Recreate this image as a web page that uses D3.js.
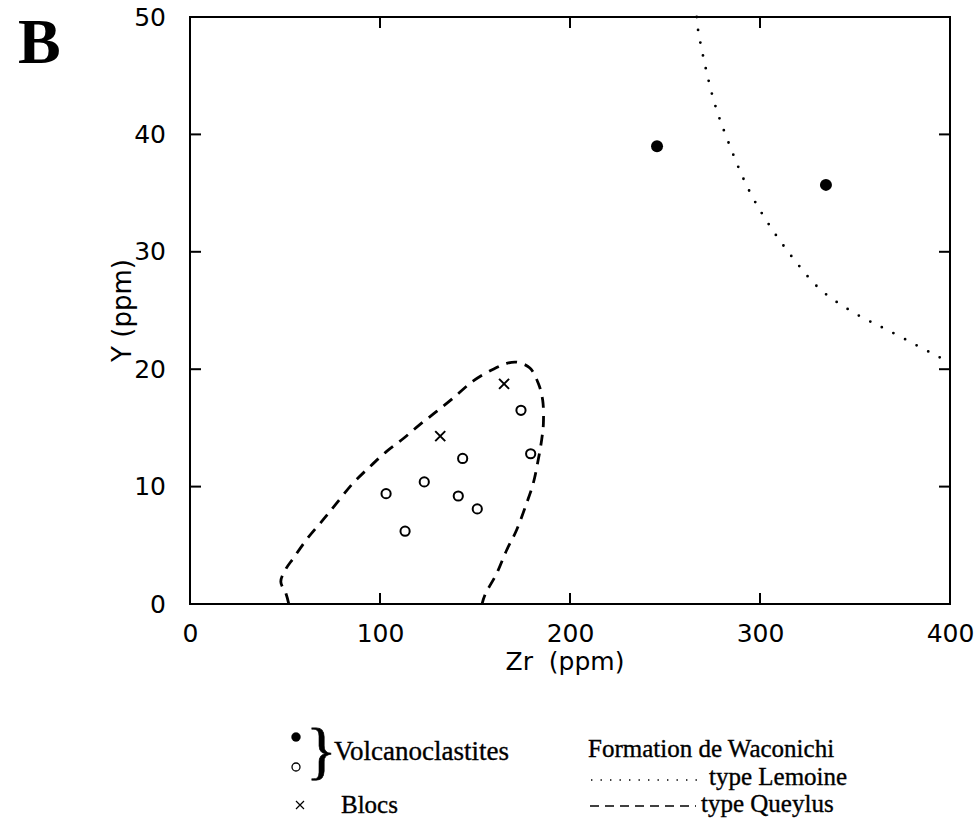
<!DOCTYPE html>
<html>
<head>
<meta charset="utf-8">
<script src="https://cdn.jsdelivr.net/npm/d3@7"></script>
<style>
  body { margin: 0; background: #fff; }
  .tick text { font-family: "DejaVu Sans", sans-serif; }
</style>
</head>
<body>
<div id="chart"></div>
<script>
// DATA
const xTicks = [0, 100, 200, 300, 400]
const yTicks = [0, 10, 20, 30, 40, 50]

// volcanoclastites, filled
const volcFilled = [[245.8, 39.0], [334.7, 35.7]]
// volcanoclastites, open
const volcOpen = [[103.2, 9.4], [113.2, 6.2], [123.3, 10.4], [141.2, 9.2],
  [143.5, 12.4], [151.2, 8.1], [174.2, 16.5], [179.3, 12.8]]
// blocs
const blocs = [[131.7, 14.3], [165.3, 18.75]]

// Formation de Waconichi, type Lemoine
const lemoine = [[266.7, 50], [267.5, 48.8], [275.3, 43.1], [282.5, 39.7], [293.7, 35.4],
  [304.4, 32.4], [317.2, 29.5], [331.7, 26.8], [349.5, 24.8], [368.8, 23.2], [394.7, 21.0], [400, 20.6]]

// Formation de Waconichi, type Queylus
const queylus = [[52, 0], [50.5, 0.9], [47.8, 1.9], [50.5, 3.0], [54.4, 3.9], [61.4, 5.5],
  [70.2, 7.2], [77.2, 8.6], [85.9, 10.3], [94.7, 11.7], [103.5, 13.0], [112.3, 14.1],
  [121.1, 15.3], [129.8, 16.4], [138.6, 17.55], [149.1, 19.0], [159.6, 20.0], [166.7, 20.5],
  [171.9, 20.6], [178.9, 20.1], [183.3, 18.8], [185.6, 17.4], [186, 15.4], [185.1, 14.0],
  [183.3, 12.3], [180.7, 10.3], [177.2, 8.6], [171.9, 6.3], [166.7, 4.6], [161.4, 2.6],
  [155.3, 0.8], [153.7, 0]]

const width = 980, height = 825

const svg = d3.select("#chart")
    .append("svg")
    .attr("width", width)
    .attr("height", height)

// SCALES
const x = d3.scaleLinear().domain([0, 400]).range([190, 950])
const y = d3.scaleLinear().domain([0, 50]).range([604, 17])

// FRAME
svg.append("rect")
    .attr("x", x(0)).attr("y", y(50))
    .attr("width", x(400) - x(0)).attr("height", y(0) - y(50))
    .attr("fill", "none").attr("stroke", "black").attr("stroke-width", 2)

// AXES (ticks inward on all four sides)
const inner = xTicks.slice(1, -1)
const innerY = yTicks.slice(1, -1)

svg.append("g")
    .attr("transform", `translate(0, ${y(0)})`)
    .call(d3.axisBottom(x).tickValues(xTicks).tickSize(0).tickPadding(20).tickFormat(d3.format("d")))
    .call(g => g.select(".domain").remove())
    .attr("font-size", 25)

svg.append("g")
    .attr("transform", `translate(${x(0)}, 0)`)
    .call(d3.axisLeft(y).tickValues(yTicks).tickSize(0).tickPadding(24).tickFormat(d3.format("d")))
    .call(g => g.select(".domain").remove())
    .attr("font-size", 25)

const tickLen = 11
const tg = svg.append("g").attr("stroke", "black").attr("stroke-width", 2)
tg.selectAll(".tb").data(inner).join("line")
    .attr("x1", d => x(d)).attr("x2", d => x(d))
    .attr("y1", y(0)).attr("y2", y(0) - tickLen)
tg.selectAll(".tt").data(inner).join("line")
    .attr("x1", d => x(d)).attr("x2", d => x(d))
    .attr("y1", y(50)).attr("y2", y(50) + tickLen)
tg.selectAll(".tl").data(innerY).join("line")
    .attr("x1", x(0)).attr("x2", x(0) + tickLen)
    .attr("y1", d => y(d)).attr("y2", d => y(d))
tg.selectAll(".tr").data(innerY).join("line")
    .attr("x1", x(400)).attr("x2", x(400) - tickLen)
    .attr("y1", d => y(d)).attr("y2", d => y(d))

// AXIS TITLES
svg.append("text")
    .attr("x", x(200) - 5).attr("y", 670)
    .attr("text-anchor", "middle")
    .style("white-space", "pre")
    .attr("font-family", "DejaVu Sans, sans-serif").attr("font-size", 25)
    .text("Zr  (ppm)")

svg.append("text")
    .attr("transform", `translate(131, ${y(25)}) rotate(-90)`)
    .attr("text-anchor", "middle")
    .attr("font-family", "DejaVu Sans, sans-serif").attr("font-size", 26)
    .text("Y (ppm)")

// PANEL LETTER
svg.append("text")
    .attr("x", 18).attr("y", 63)
    .attr("font-family", "Liberation Serif, serif").attr("font-size", 64)
    .attr("font-weight", "bold")
    .text("B")

// CURVES
const line = d3.line().x(d => x(d[0])).y(d => y(d[1])).curve(d3.curveCatmullRom)

svg.append("path")
    .datum(lemoine)
    .attr("d", line)
    .attr("fill", "none").attr("stroke", "black")
    .attr("stroke-width", 2.8).attr("stroke-linecap", "round")
    .attr("stroke-dasharray", "0,13")

svg.append("path")
    .datum(queylus)
    .attr("d", line)
    .attr("fill", "none").attr("stroke", "black")
    .attr("stroke-width", 2.8).attr("stroke-dasharray", "11,8")

// POINTS
svg.append("g").selectAll("circle")
    .data(volcFilled)
    .join("circle")
    .attr("cx", d => x(d[0])).attr("cy", d => y(d[1]))
    .attr("r", 6).attr("fill", "black")

svg.append("g").selectAll("circle")
    .data(volcOpen)
    .join("circle")
    .attr("cx", d => x(d[0])).attr("cy", d => y(d[1]))
    .attr("r", 4.6).attr("fill", "none").attr("stroke", "black").attr("stroke-width", 2)

svg.append("g").selectAll("path")
    .data(blocs)
    .join("path")
    .attr("transform", d => `translate(${x(d[0])}, ${y(d[1])})`)
    .attr("d", "M-5,-5L5,5M-5,5L5,-5")
    .attr("fill", "none").attr("stroke", "black").attr("stroke-width", 2)

// LEGEND
const leg = svg.append("g")
    .attr("font-family", "Liberation Serif, serif").attr("font-size", 25)
    .attr("stroke", "black").attr("stroke-width", 0.35)

leg.append("circle").attr("cx", 296).attr("cy", 737).attr("r", 4.5).attr("fill", "black")
leg.append("circle").attr("cx", 296).attr("cy", 767).attr("r", 4)
    .attr("fill", "none").attr("stroke", "black").attr("stroke-width", 1.3)
leg.append("text").attr("x", 306).attr("y", 772)
    .attr("font-size", 64).attr("stroke-width", 0.6).text("}")
leg.append("text").attr("x", 334).attr("y", 760)
    .attr("font-size", 27).text("Volcanoclastites")

leg.append("path").attr("transform", "translate(300, 805)")
    .attr("d", "M-4,-4L4,4M-4,4L4,-4")
    .attr("fill", "none").attr("stroke", "black").attr("stroke-width", 1.2)
leg.append("text").attr("x", 341).attr("y", 813).text("Blocs")

leg.append("text").attr("x", 588).attr("y", 757).text("Formation de Waconichi")
leg.append("line").attr("x1", 591).attr("x2", 697).attr("y1", 780).attr("y2", 780)
    .attr("stroke", "black").attr("stroke-width", 1.4).attr("stroke-dasharray", "1.4,8.1")
leg.append("text").attr("x", 709).attr("y", 785).text("type Lemoine")
leg.append("line").attr("x1", 590).attr("x2", 696).attr("y1", 806).attr("y2", 806)
    .attr("stroke", "black").attr("stroke-width", 1.6).attr("stroke-dasharray", "9,6")
leg.append("text").attr("x", 701).attr("y", 812).text("type Queylus")
</script>
</body>
</html>
